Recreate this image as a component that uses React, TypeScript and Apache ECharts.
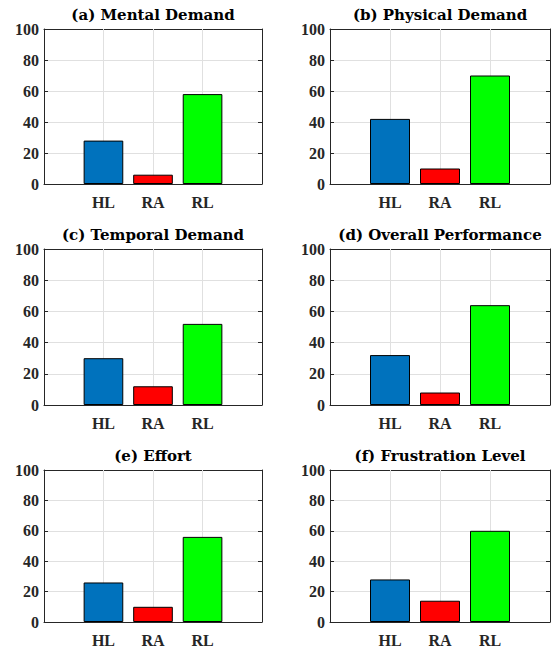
import React, { useEffect, useRef } from "react";
import * as echarts from "echarts";

const categories = ["HL", "RA", "RL"];
const panelTitles = [
  "(a) Mental Demand",
  "(b) Physical Demand",
  "(c) Temporal Demand",
  "(d) Overall Performance",
  "(e) Effort",
  "(f) Frustration Level",
];
const mentalDemand = [28, 6, 58];
const physicalDemand = [42, 10, 70];
const temporalDemand = [30, 12, 52];
const overallPerformance = [32, 8, 64];
const effort = [26, 10, 56];
const frustrationLevel = [28, 14, 60];
const panelValues = [mentalDemand, physicalDemand, temporalDemand, overallPerformance, effort, frustrationLevel];
const barColors = ["#0072BD", "#FF0000", "#00FF00"];
const yTicks = [0, 20, 40, 60, 80, 100];

const colLeft = [44, 330];
const colWidth = [218, 220];
const rowTop = [29, 249, 470];
const rowHeight = [155, 156, 154];

const AXIS_COLOR = "#262626";
const GRID_COLOR = "#e0e0e0";
const TICK_FONT = '"Liberation Serif", "Times New Roman", serif';
const TITLE_FONT = '"DejaVu Serif", "Liberation Serif", serif';

export default function App() {
  const ref = useRef<HTMLDivElement>(null);
  useEffect(() => {
    if (!ref.current) return;
    const chart = echarts.init(ref.current, undefined, { renderer: "svg" });
    const positions = categories.map((_, j) => j + 1);
    const grids: any[] = [];
    const xAxes: any[] = [];
    const yAxes: any[] = [];
    const series: any[] = [];
    const graphics: any[] = [];
    panelValues.forEach((vals, i) => {
      const col = i % 2;
      const row = Math.floor(i / 2);
      const left = colLeft[col];
      const top = rowTop[row];
      const width = colWidth[col];
      const height = rowHeight[row];
      grids.push({ left, top, width, height, containLabel: false });
      const lineStyle = { color: AXIS_COLOR, width: 1 };
      const labelStyle = {
        fontFamily: TICK_FONT,
        fontWeight: "bold",
        fontSize: 16,
        color: AXIS_COLOR,
      };
      xAxes.push({
        type: "value",
        gridIndex: i,
        min: -0.2,
        max: 4.2,
        position: "bottom",
        axisLine: { show: true, onZero: false, lineStyle },
        axisTick: { show: true, inside: true, length: 4, customValues: positions, lineStyle },
        axisLabel: {
          ...labelStyle,
          customValues: positions,
          margin: 10,
          formatter: (v: number) => categories[Math.round(v) - 1] ?? "",
        },
        splitLine: { show: false },
      });
      xAxes.push({
        type: "value",
        gridIndex: i,
        min: -0.2,
        max: 4.2,
        position: "top",
        axisLine: { show: true, onZero: false, lineStyle },
        axisTick: { show: true, inside: true, length: 4, customValues: positions, lineStyle },
        axisLabel: { show: false },
        splitLine: { show: false },
      });
      yAxes.push({
        type: "value",
        gridIndex: i,
        min: yTicks[0],
        max: yTicks[yTicks.length - 1],
        interval: 20,
        position: "left",
        axisLine: { show: true, onZero: false, lineStyle },
        axisTick: { show: true, inside: true, length: 4, lineStyle },
        axisLabel: { ...labelStyle, margin: 5 },
        splitLine: { show: true, lineStyle: { color: GRID_COLOR, width: 1 } },
      });
      yAxes.push({
        type: "value",
        gridIndex: i,
        min: yTicks[0],
        max: yTicks[yTicks.length - 1],
        interval: 20,
        position: "right",
        axisLine: { show: true, onZero: false, lineStyle },
        axisTick: { show: true, inside: true, length: 4, lineStyle },
        axisLabel: { show: false },
        splitLine: { show: false },
      });
      series.push({
        type: "bar",
        xAxisIndex: 2 * i,
        yAxisIndex: 2 * i,
        barWidth: "80%",
        z: 3,
        itemStyle: { borderColor: "#000", borderWidth: 1 },
        data: vals.map((v, j) => ({
          value: [positions[j], v],
          itemStyle: { color: barColors[j] },
        })),
        markLine: {
          silent: true,
          z: 1,
          symbol: "none",
          label: { show: false },
          lineStyle: { color: GRID_COLOR, type: "solid", width: 1 },
          emphasis: { disabled: true },
          data: positions.map((p) => ({ xAxis: p })),
        },
      });
      graphics.push({
        type: "text",
        x: left + width / 2,
        y: top - 14,
        style: {
          text: panelTitles[i],
          fontFamily: TITLE_FONT,
          fontWeight: "bold",
          fontSize: 15,
          fill: "#000",
          align: "center",
          verticalAlign: "middle",
        },
      });
    });
    chart.setOption({
      animation: false,
      backgroundColor: "#fff",
      grid: grids,
      xAxis: xAxes,
      yAxis: yAxes,
      series,
      graphic: graphics,
    });
    return () => chart.dispose();
  }, []);
  return (
    <div
      ref={ref}
      style={{ position: "absolute", left: 0, top: 0, width: 553, height: 648 }}
    />
  );
}
